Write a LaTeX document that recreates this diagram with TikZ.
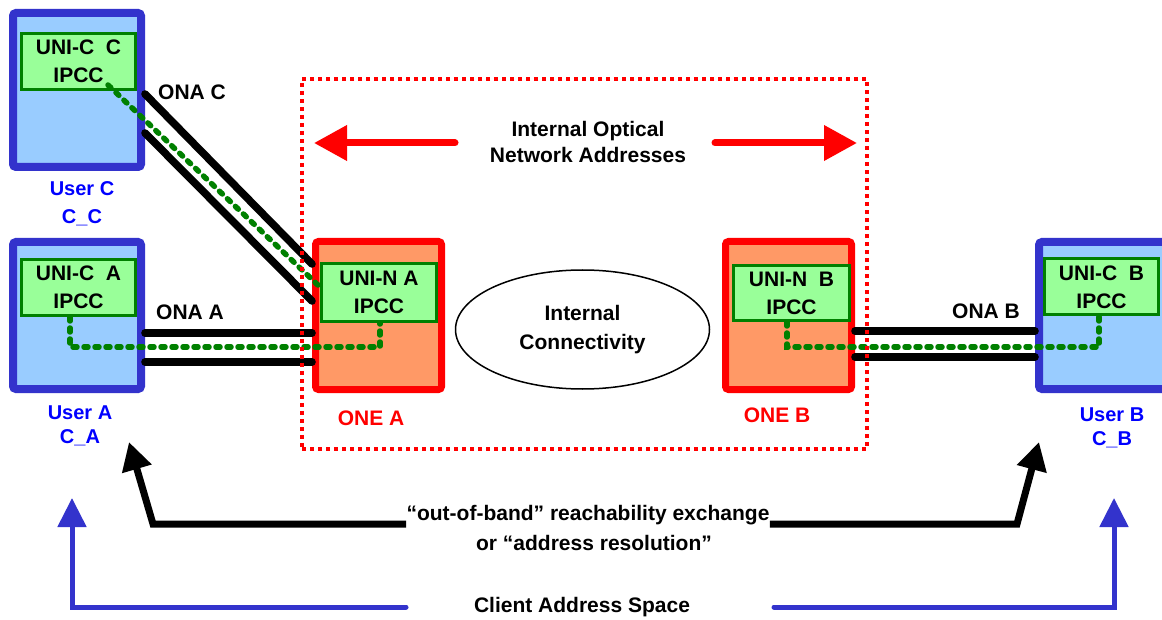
\documentclass[tikz,border=0pt]{standalone}
\usepackage{fontspec}
\setmainfont{Liberation Sans}
\usetikzlibrary{arrows.meta,shapes.geometric}
\definecolor{userline}{HTML}{3333CC}
\definecolor{userfill}{HTML}{99CCFF}
\definecolor{usertext}{HTML}{0000FF}
\definecolor{onefill}{HTML}{FF9966}
\definecolor{ipccline}{HTML}{008000}
\definecolor{ipccfill}{HTML}{99FF99}
\tikzset{
	every node/.style={font=\bfseries\fontsize{10.5}{14}\selectfont},
	userbox/.style={draw=userline,fill=userfill,line width=4pt,rounded corners=1.5pt,minimum width=64pt,minimum height=73.5pt},
	onebox/.style={draw=red,fill=onefill,line width=3.5pt,rounded corners=1.5pt,minimum width=63pt,minimum height=74pt},
	ipccbox/.style={draw=ipccline,fill=ipccfill,line width=1.5pt,minimum width=57pt,minimum height=28pt,align=center,inner sep=0pt},
	userlabel/.style={text=usertext,align=center,font=\bfseries\fontsize{10}{12}\selectfont},
	link/.style={line width=3.8pt,line cap=round},
	ipcc/.style={draw=ipccline,line width=2.75pt,line cap=round,dash pattern=on 2pt off 3.5pt},
	onaarrow/.style={draw=red,line width=3.5pt,line cap=round,-{Triangle[length=16.5pt,width=17pt]}},
	exchange/.style={line width=3.5pt,-{Triangle[length=14pt,width=14.5pt]}},
	clientarrow/.style={draw=userline,line width=2.5pt,line cap=round,-{Triangle[length=14.5pt,width=14pt]}}
}
\begin{document}
\begin{tikzpicture}[x=0.5pt,y=-0.5pt]
	\useasboundingbox (0,0) rectangle (1162,620);
	\clip (0,0) rectangle (1162,620);
	\node (userC) [userbox,minimum height=77pt] at (77,90) {};
	\node (userA) [userbox] at (77,315.5) {};
	\node (userB) [userbox] at (1103,315.5) {};
	\node (oneA) [onebox] at (378.5,315.5) {};
	\node (oneB) [onebox] at (788.5,315.5) {};
	\node (uniCC) [ipccbox] at (78.5,61.5) {UNI-C\ \ C\\IPCC};
	\node (uniCA) [ipccbox] at (78.5,287.5) {UNI-C\ \ A\\IPCC};
	\node (uniNA) [ipccbox,minimum width=57.5pt,minimum height=29pt] at (379,292.5) {UNI-N A\\IPCC};
	\node (uniNB) [ipccbox,minimum width=58pt,minimum height=27.5pt] at (791.5,293) {UNI-N\ \ B\\IPCC};
	\node (uniCB) [ipccbox] at (1101.5,287) {UNI-C\ \ B\\IPCC};
	\draw[link] (userA.east |- 0,333) -- (oneA.west |- 0,333);
	\draw[link] (userA.east |- 0,362) -- (oneA.west |- 0,362);
	\draw[link] (oneB.east |- 0,331) -- (userB.west |- 0,331);
	\draw[link] (oneB.east |- 0,357) -- (userB.west |- 0,357);
	\draw[link] (userC.east |- 0,94) -- (oneA.west |- 0,264);
	\draw[link] (userC.east |- 0,133) -- (oneA.west |- 0,301);
	\draw[ipcc] (uniCA.south -| 70,0) |- (380,347) -- (uniNA.south -| 380,0);
	\draw[ipcc] (uniNB.south -| 787,0) |- (1099,347) -- (uniCB.south -| 1099,0);
	\draw[ipcc] (108,85) -- (uniNA.west |- 0,287);
	\node (core) [draw=red,line width=2pt,dash pattern=on 2pt off 2pt,minimum width=282.5pt,minimum height=185pt] at (584.5,264) {};
	\node (cloud) [draw,ellipse,line width=0.75pt,minimum width=127pt,minimum height=59.5pt,align=center,font=\bfseries\fontsize{10.5}{14.5}\selectfont] at (582.5,329.5) {Internal\\Connectivity};
	\node (labC) [userlabel] at (82,204) {User C\\[2pt]C\_C};
	\node (labA) [userlabel] at (80,426) {User A\\C\_A};
	\node (labB) [userlabel] at (1112,428) {User B\\C\_B};
	\node (labOneA) [text=red] at (371,418) {ONE A};
	\node (labOneB) [text=red] at (777,415) {ONE B};
	\node (onaC) at (192,92) {ONA C};
	\node (onaA) at (190,312) {ONA A};
	\node (onaB) at (986,311) {ONA B};
	\node (ona) [align=center,font=\bfseries\fontsize{10.5}{13}\selectfont] at (588,142) {Internal Optical\\Network Addresses};
	\coordinate (tailL) at (455,143);
	\coordinate (tipL) at (314,143);
	\coordinate (tailR) at (715,143);
	\coordinate (tipR) at (857,143);
	\draw[onaarrow] (tailL) -- (tipL);
	\draw[onaarrow] (tailR) -- (tipR);
	\node (exch) [inner sep=0pt] at (588,515) {“out-of-band” reachability exchange};
	\node (resol) at (594,543) {or “address resolution”};
	\coordinate (kneeA) at (153,524);
	\coordinate (tipA) at (129,442);
	\coordinate (kneeB) at (1017,524);
	\coordinate (tipB) at (1039,442);
	\draw[exchange] (exch.west |- kneeA) -- (kneeA) -- (tipA);
	\draw[exchange] (exch.east |- kneeB) -- (kneeB) -- (tipB);
	\node (client) at (582,607) {Client Address Space};
	\coordinate (endCA) at (406,607);
	\coordinate (kneeCA) at (72,607);
	\coordinate (tipCA) at (72,498);
	\coordinate (endCB) at (774,607);
	\coordinate (kneeCB) at (1114,607);
	\coordinate (tipCB) at (1114,498);
	\draw[clientarrow] (endCA) -- (kneeCA) -- (tipCA);
	\draw[clientarrow] (endCB) -- (kneeCB) -- (tipCB);
\end{tikzpicture}
\end{document}
